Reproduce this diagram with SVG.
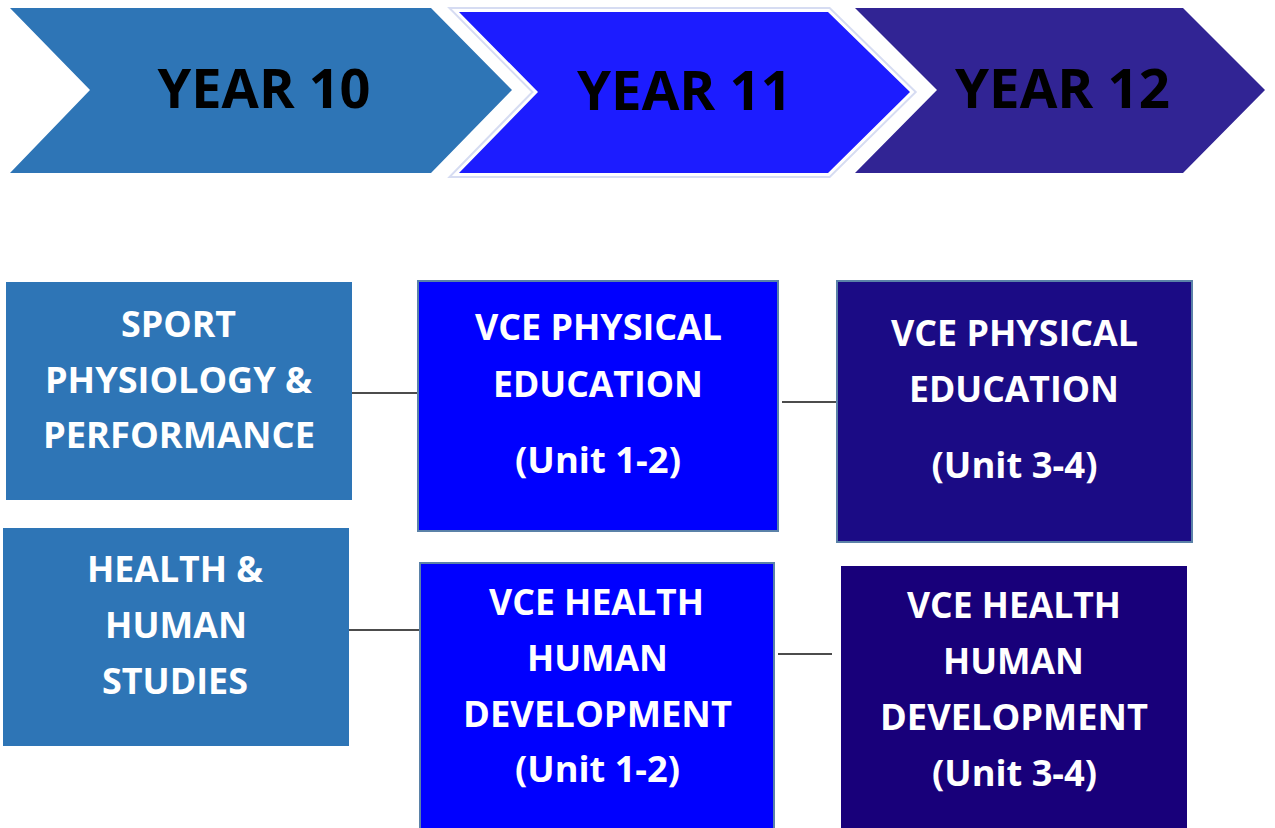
<svg xmlns="http://www.w3.org/2000/svg" width="1275" height="828" viewBox="0 0 1275 828">
<style>
.yr{font-family:"Open Sans","Liberation Sans",sans-serif;font-weight:700;font-size:54px;fill:#000;text-anchor:middle}
.bt{font-family:"Open Sans","Liberation Sans",sans-serif;font-weight:700;font-size:35px;fill:#fff;text-anchor:middle}
.conn{stroke:#111;stroke-width:1.4;fill:none}
</style>
<rect width="1275" height="828" fill="#fff"/>
<g id="chevron-year10">
<polygon points="10,8 431,8 512,90 431,173 10,173 90,90" fill="#2E75B6"/>
<text class="yr" x="264" y="108" textLength="213" lengthAdjust="spacingAndGlyphs">YEAR 10</text>
</g>
<g id="chevron-year11">
<polygon points="459,12 828,12 910,92 828,173 459,173 538,92" fill="#1C1CFF" stroke="#d6dcf2" stroke-width="10" stroke-linejoin="miter"/>
<polygon points="459,12 828,12 910,92 828,173 459,173 538,92" fill="#1C1CFF" stroke="#ffffff" stroke-width="6" stroke-linejoin="miter"/>
<polygon points="459,12 828,12 910,92 828,173 459,173 538,92" fill="#1C1CFF"/>
<text class="yr" x="684.5" y="110" textLength="215" lengthAdjust="spacingAndGlyphs">YEAR 11</text>
</g>
<g id="chevron-year12">
<polygon points="855,8 1183,8 1265,90 1183,173 855,173 937,90" fill="#312494"/>
<text class="yr" x="1062.5" y="108" textLength="215" lengthAdjust="spacingAndGlyphs">YEAR 12</text>
</g>
<g id="connectors">
<line class="conn" x1="347" y1="393" x2="417" y2="393"/>
<line class="conn" x1="782" y1="402" x2="836" y2="402"/>
<line class="conn" x1="341" y1="630" x2="419" y2="630"/>
<line class="conn" x1="778" y1="654" x2="832" y2="654"/>
</g>
<g id="box-sport">
<rect x="6" y="282" width="346" height="218" fill="#2E75B6"/>
<text class="bt" x="178.5" y="337" textLength="115" lengthAdjust="spacingAndGlyphs">SPORT</text>
<text class="bt" x="178.5" y="393" textLength="267" lengthAdjust="spacingAndGlyphs">PHYSIOLOGY &amp;</text>
<text class="bt" x="179" y="448" textLength="272" lengthAdjust="spacingAndGlyphs">PERFORMANCE</text>
</g>
<g id="box-health">
<rect x="3" y="528" width="346" height="218" fill="#2E75B6"/>
<text class="bt" x="175" y="582" textLength="176" lengthAdjust="spacingAndGlyphs">HEALTH &amp;</text>
<text class="bt" x="176" y="638" textLength="142" lengthAdjust="spacingAndGlyphs">HUMAN</text>
<text class="bt" x="175" y="694" textLength="146" lengthAdjust="spacingAndGlyphs">STUDIES</text>
</g>
<g id="box-pe12">
<rect x="418" y="281" width="360" height="250" fill="#0000FF" stroke="#5B82A8" stroke-width="2"/>
<text class="bt" x="598.5" y="340" textLength="247" lengthAdjust="spacingAndGlyphs">VCE PHYSICAL</text>
<text class="bt" x="598" y="397" textLength="210" lengthAdjust="spacingAndGlyphs">EDUCATION</text>
<text class="bt" x="598" y="473" textLength="166" lengthAdjust="spacingAndGlyphs">(Unit 1-2)</text>
</g>
<g id="box-hhd12">
<rect x="420" y="563" width="354" height="280" fill="#0000FF" stroke="#5B82A8" stroke-width="2"/>
<text class="bt" x="596.5" y="615" textLength="215" lengthAdjust="spacingAndGlyphs">VCE HEALTH</text>
<text class="bt" x="597.5" y="671" textLength="141" lengthAdjust="spacingAndGlyphs">HUMAN</text>
<text class="bt" x="597.5" y="727" textLength="269" lengthAdjust="spacingAndGlyphs">DEVELOPMENT</text>
<text class="bt" x="597.5" y="782" textLength="165" lengthAdjust="spacingAndGlyphs">(Unit 1-2)</text>
</g>
<g id="box-pe34">
<rect x="837" y="281" width="355" height="261" fill="#1B0B85" stroke="#5B82A8" stroke-width="2"/>
<text class="bt" x="1014.5" y="346" textLength="247" lengthAdjust="spacingAndGlyphs">VCE PHYSICAL</text>
<text class="bt" x="1014" y="402" textLength="210" lengthAdjust="spacingAndGlyphs">EDUCATION</text>
<text class="bt" x="1014.5" y="478" textLength="166" lengthAdjust="spacingAndGlyphs">(Unit 3-4)</text>
</g>
<g id="box-hhd34">
<rect x="841" y="566" width="346" height="270" fill="#18007A"/>
<text class="bt" x="1014" y="618" textLength="214" lengthAdjust="spacingAndGlyphs">VCE HEALTH</text>
<text class="bt" x="1013.5" y="674" textLength="141" lengthAdjust="spacingAndGlyphs">HUMAN</text>
<text class="bt" x="1014" y="730" textLength="268" lengthAdjust="spacingAndGlyphs">DEVELOPMENT</text>
<text class="bt" x="1014.5" y="786" textLength="165" lengthAdjust="spacingAndGlyphs">(Unit 3-4)</text>
</g>
</svg>
